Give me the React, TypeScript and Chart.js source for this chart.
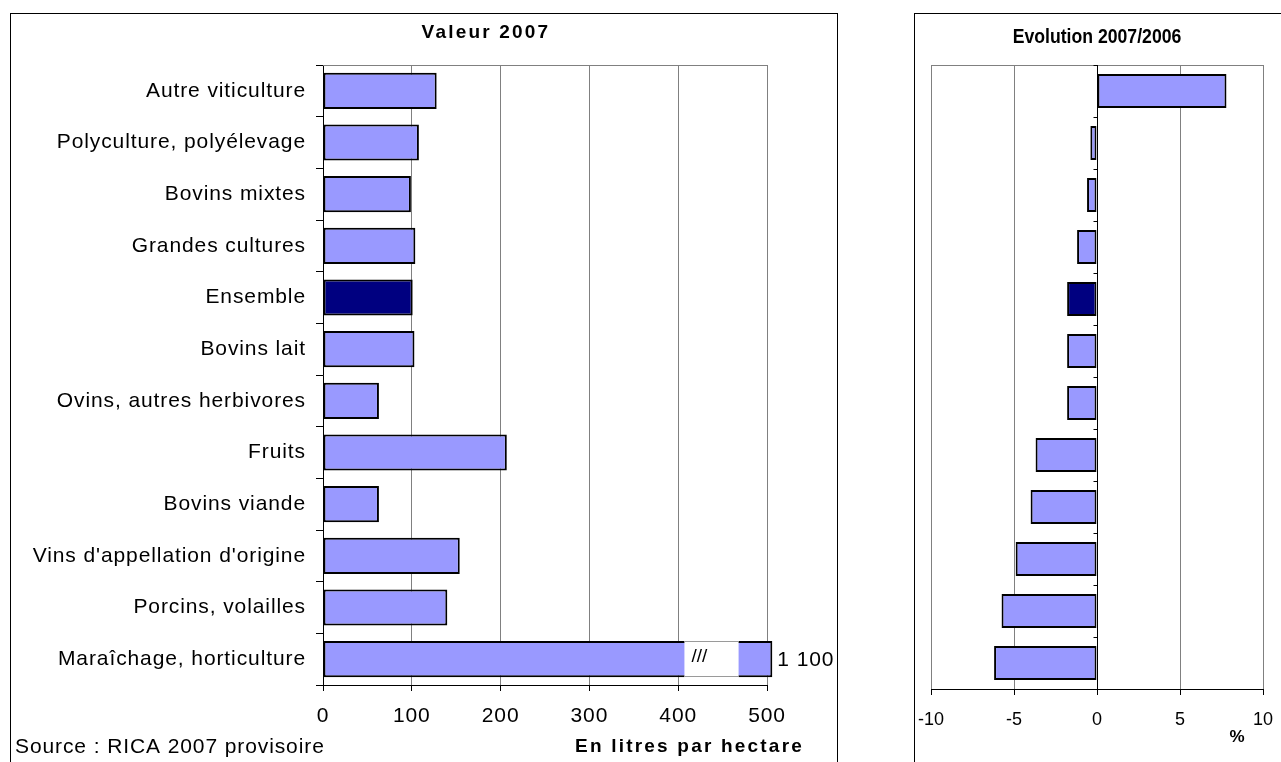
import React, { useEffect, useRef } from "react";
import { Chart, registerables } from "chart.js";

Chart.register(...registerables);

// ---------- data ----------
const categories = [
  "Autre viticulture",
  "Polyculture, polyélevage",
  "Bovins mixtes",
  "Grandes cultures",
  "Ensemble",
  "Bovins lait",
  "Ovins, autres herbivores",
  "Fruits",
  "Bovins viande",
  "Vins d'appellation d'origine",
  "Porcins, volailles",
  "Maraîchage, horticulture",
];
const valeur2007 = [128, 108, 99, 104, 101, 103, 63, 207, 63, 154, 140, 1100];
const evolution = [7.8, -0.4, -0.6, -1.2, -1.8, -1.8, -1.8, -3.7, -4.0, -4.9, -5.75, -6.2];
const highlightCategory = "Ensemble";
const valeurTicks = [0, 100, 200, 300, 400, 500];
const evolutionTicks = [-10, -5, 0, 5, 10];
const valeurMax = 500;
// axis break for values beyond the scale
const breakFrom = 407;
const breakTo = 468;
const breakShown = 506;

const leftTitle = "Valeur 2007";
const leftAxisTitle = "En litres par hectare";
const sourceText = "Source : RICA 2007 provisoire";
const rightTitle = "Evolution 2007/2006";
const rightAxisTitle = "%";
const breakMark = "///";

const BAR = "#9999FF";
const BAR_HI = "#000080";
const GRID = "#808080";
const FONT = "'Liberation Sans', Arial, sans-serif";
const SPACING = "0.9px";

const fmt = (v: number) => String(v).replace(/\B(?=(\d{3})+(?!\d))/g, " ");

const LEFT_W = 880;
const RIGHT_W = 401;
const H = 762;

export default function App() {
  const leftRef = useRef<HTMLCanvasElement>(null);
  const rightRef = useRef<HTMLCanvasElement>(null);

  useEffect(() => {
    const fills = categories.map((c) => (c === highlightCategory ? BAR_HI : BAR));
    const shown = valeur2007.map((v) => (v > valeurMax ? breakShown : v));

    const leftPlugin = {
      id: "leftDeco",
      beforeDraw(chart: any) {
        const ctx = chart.ctx;
        ctx.save();
        ctx.fillStyle = "#fff";
        ctx.fillRect(0, 0, chart.width, chart.height);
        ctx.restore();
        ctx.letterSpacing = SPACING;
      },
      afterDatasetsDraw(chart: any) {
        const ctx = chart.ctx;
        const ca = chart.chartArea;
        const xs = chart.scales.x;
        ctx.save();
        ctx.strokeStyle = GRID;
        ctx.lineWidth = 1;
        ctx.beginPath();
        ctx.moveTo(ca.left, Math.round(ca.top) + 0.5);
        ctx.lineTo(ca.right, Math.round(ca.top) + 0.5);
        ctx.stroke();
        const meta = chart.getDatasetMeta(0);
        valeur2007.forEach((v, i) => {
          if (v <= valeurMax) return;
          const bar = meta.data[i];
          const p = bar.getProps(["x", "y", "height"], true);
          const x1 = xs.getPixelForValue(breakFrom);
          const x2 = xs.getPixelForValue(breakTo);
          const t = p.y - p.height / 2;
          const b = p.y + p.height / 2;
          ctx.fillStyle = "#fff";
          ctx.fillRect(x1, t - 1, x2 - x1, b - t + 2);
          ctx.strokeStyle = "#9a9a9a";
          ctx.beginPath();
          ctx.moveTo(x1, Math.round(t) + 0.5);
          ctx.lineTo(x2, Math.round(t) + 0.5);
          ctx.moveTo(x1, Math.round(b) - 0.5);
          ctx.lineTo(x2, Math.round(b) - 0.5);
          ctx.stroke();
          ctx.fillStyle = "#000";
          ctx.font = `19px ${FONT}`;
          ctx.letterSpacing = "0px";
          ctx.textAlign = "center";
          ctx.textBaseline = "middle";
          ctx.fillText(breakMark, x1 + 15, p.y - 2);
          ctx.letterSpacing = SPACING;
          ctx.font = `21px ${FONT}`;
          ctx.textAlign = "left";
          ctx.fillText(fmt(v), p.x + 5, p.y + 1);
        });
        ctx.restore();
      },
      afterDraw(chart: any) {
        const ctx = chart.ctx;
        ctx.save();
        ctx.strokeStyle = "#000";
        ctx.lineWidth = 1;
        ctx.strokeRect(10.5, 13.5, 827, 900);
        ctx.fillStyle = "#000";
        ctx.textBaseline = "middle";
        ctx.letterSpacing = "2.2px";
        ctx.font = `bold 19px ${FONT}`;
        ctx.textAlign = "center";
        ctx.fillText(leftTitle, 486, 33);
        ctx.textAlign = "right";
        ctx.fillText(leftAxisTitle, 804, 747);
        ctx.letterSpacing = SPACING;
        ctx.font = `21px ${FONT}`;
        ctx.textAlign = "left";
        ctx.fillText(sourceText, 15, 747);
        ctx.restore();
      },
    };

    const left = new Chart(leftRef.current!, {
      type: "bar",
      data: {
        labels: categories,
        datasets: [
          {
            data: shown,
            backgroundColor: fills,
            borderColor: "#000",
            borderWidth: 2,
            borderSkipped: false,
            barPercentage: 0.7,
            categoryPercentage: 1,
            clip: false as any,
          },
        ],
      },
      options: {
        indexAxis: "y",
        responsive: false,
        animation: false,
        layout: { padding: { left: 0, top: 65, right: LEFT_W - 767, bottom: 0 } },
        plugins: { legend: { display: false }, tooltip: { enabled: false }, title: { display: false } },
        scales: {
          x: {
            type: "linear",
            min: 0,
            max: valeurMax,
            afterBuildTicks: (s: any) => {
              s.ticks = valeurTicks.map((v) => ({ value: v }));
            },
            grid: { color: GRID, tickColor: "#000", tickLength: 6, lineWidth: 1 },
            border: { color: "#000", width: 1 },
            ticks: { font: { family: FONT, size: 21 }, color: "#000", padding: 13, maxRotation: 0, autoSkip: false },
            afterFit: (s: any) => {
              s.height = H - 685;
              s.paddingLeft = 0;
              s.paddingRight = 0;
            },
          },
          y: {
            grid: { drawOnChartArea: false, tickLength: 7, color: "#000", offset: true },
            border: { color: "#000", width: 1 },
            ticks: { font: { family: FONT, size: 21 }, color: "#000", padding: 10, autoSkip: false },
            afterFit: (s: any) => {
              s.width = 323;
              s.paddingTop = 0;
              s.paddingBottom = 0;
            },
          },
        },
      },
      plugins: [leftPlugin],
    } as any);

    const rightPlugin = {
      id: "rightDeco",
      beforeDraw(chart: any) {
        const ctx = chart.ctx;
        ctx.save();
        ctx.fillStyle = "#fff";
        ctx.fillRect(0, 0, chart.width, chart.height);
        ctx.restore();
      },
      afterDatasetsDraw(chart: any) {
        const ctx = chart.ctx;
        const ca = chart.chartArea;
        const xs = chart.scales.x;
        ctx.save();
        ctx.strokeStyle = GRID;
        ctx.lineWidth = 1;
        ctx.beginPath();
        ctx.moveTo(ca.left, Math.round(ca.top) + 0.5);
        ctx.lineTo(ca.right, Math.round(ca.top) + 0.5);
        ctx.stroke();
        const x0 = Math.round(xs.getPixelForValue(0)) + 0.5;
        ctx.strokeStyle = "#000";
        ctx.beginPath();
        ctx.moveTo(x0, ca.top);
        ctx.lineTo(x0, ca.bottom);
        const n = categories.length;
        for (let i = 0; i <= n; i++) {
          const y = Math.round(ca.top + (i * (ca.bottom - ca.top)) / n) + 0.5;
          ctx.moveTo(x0 - 4, y);
          ctx.lineTo(x0, y);
        }
        ctx.stroke();
        ctx.restore();
      },
      afterDraw(chart: any) {
        const ctx = chart.ctx;
        const ca = chart.chartArea;
        ctx.save();
        ctx.strokeStyle = "#000";
        ctx.lineWidth = 1;
        ctx.strokeRect(914.5 - LEFT_W, 13.5, 600, 900);
        ctx.fillStyle = "#000";
        ctx.textBaseline = "middle";
        ctx.textAlign = "center";
        // condensed bold title
        ctx.save();
        ctx.translate((ca.left + ca.right) / 2, 37);
        ctx.scale(0.84, 1);
        ctx.font = `bold 21px ${FONT}`;
        ctx.fillText(rightTitle, 0, 0);
        ctx.restore();
        ctx.font = `bold 17px ${FONT}`;
        ctx.fillText(rightAxisTitle, 1237 - LEFT_W, 737);
        ctx.restore();
      },
    };

    const right = new Chart(rightRef.current!, {
      type: "bar",
      data: {
        labels: categories,
        datasets: [
          {
            data: evolution,
            backgroundColor: fills,
            borderColor: "#000",
            borderWidth: 2,
            borderSkipped: false,
            barPercentage: 0.655,
            categoryPercentage: 1,
          },
        ],
      },
      options: {
        indexAxis: "y",
        responsive: false,
        animation: false,
        layout: { padding: { left: 931 - LEFT_W, top: 65, right: LEFT_W + RIGHT_W - 1263, bottom: 0 } },
        plugins: { legend: { display: false }, tooltip: { enabled: false }, title: { display: false } },
        scales: {
          x: {
            type: "linear",
            min: evolutionTicks[0],
            max: evolutionTicks[evolutionTicks.length - 1],
            afterBuildTicks: (s: any) => {
              s.ticks = evolutionTicks.map((v) => ({ value: v }));
            },
            grid: { color: GRID, tickColor: "#000", tickLength: 6, lineWidth: 1 },
            border: { color: "#000", width: 1 },
            ticks: { font: { family: FONT, size: 18 }, color: "#000", padding: 14, maxRotation: 0, autoSkip: false },
            afterFit: (s: any) => {
              s.height = H - 689;
              s.paddingLeft = 0;
              s.paddingRight = 0;
            },
          },
          y: { display: false, grid: { offset: true } },
        },
      },
      plugins: [rightPlugin],
    } as any);

    return () => {
      left.destroy();
      right.destroy();
    };
  }, []);

  return (
    <div style={{ position: "absolute", left: 0, top: 0, width: 1281, height: H, background: "#fff", overflow: "hidden" }}>
      <canvas ref={leftRef} width={LEFT_W} height={H} style={{ position: "absolute", left: 0, top: 0 }} />
      <canvas ref={rightRef} width={RIGHT_W} height={H} style={{ position: "absolute", left: LEFT_W, top: 0 }} />
    </div>
  );
}
